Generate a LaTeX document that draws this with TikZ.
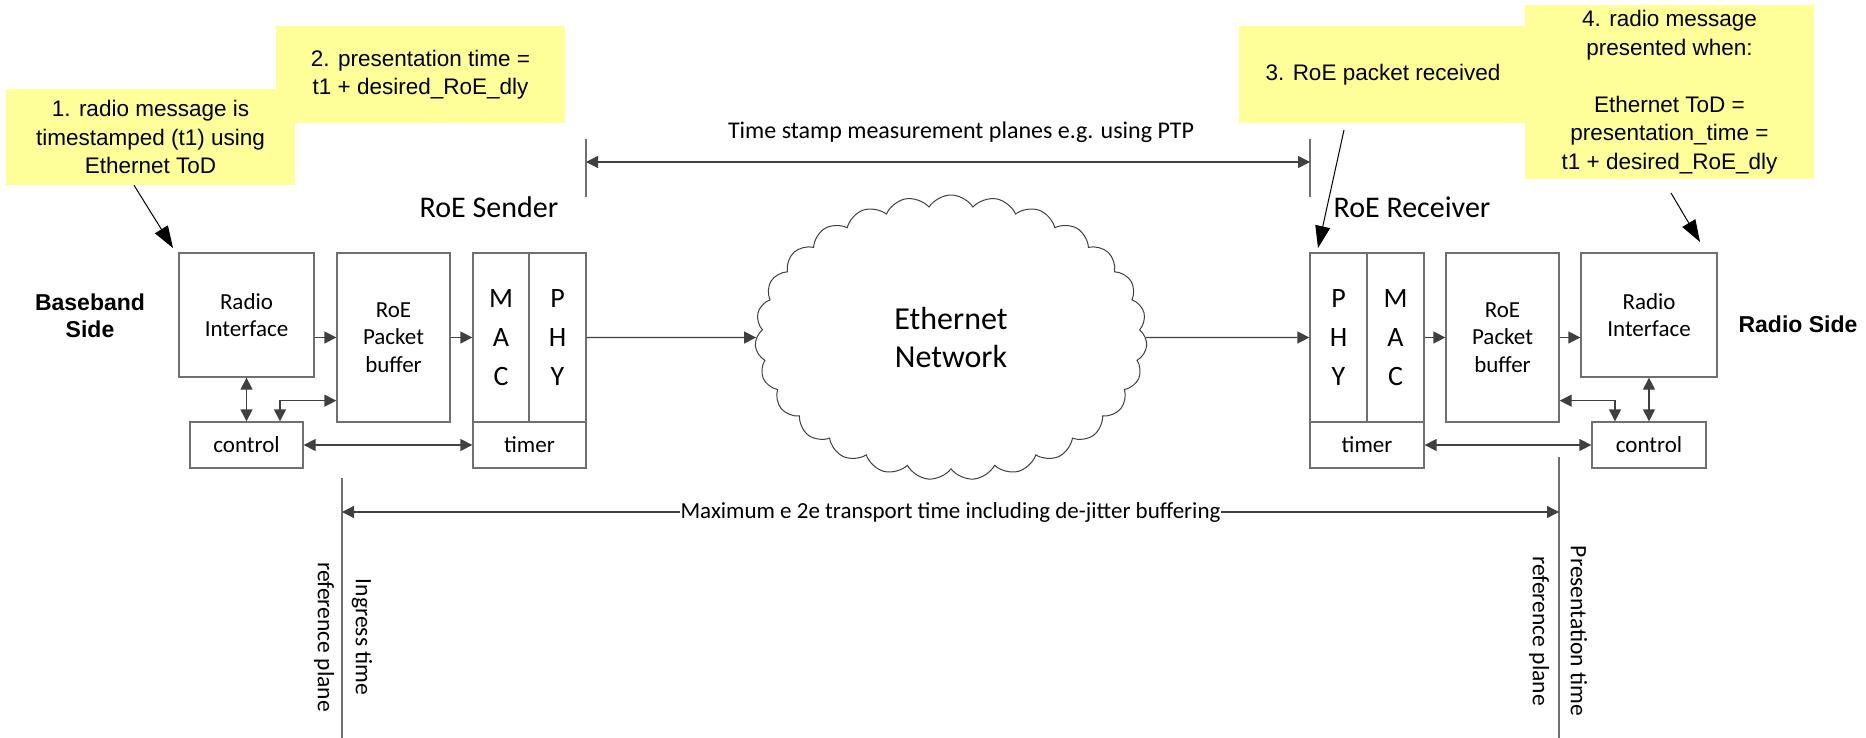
\documentclass[tikz,border=0pt]{standalone}
\usepackage{fontspec}
\setmainfont{Carlito}
\newfontfamily\arialfont{Liberation Sans}
\usetikzlibrary{shapes.symbols,arrows.meta,calc}
\definecolor{notey}{HTML}{FFFF99}
\definecolor{boxc}{HTML}{707070}
\definecolor{arrc}{HTML}{404040}
\begin{document}
\begin{tikzpicture}[x=1pt,y=-1pt,
  blk/.style={draw=boxc,line width=1.3pt,inner sep=0pt,align=center,font=\fontsize{23}{27.5}\selectfont},
  ltr/.style={blk,font=\fontsize{28}{39}\selectfont},
  note/.style={fill=notey,inner sep=0pt,align=center,font=\arialfont\fontsize{22.5}{28.5}\selectfont},
  flow/.style={draw=arrc,line width=1.3pt,-{Triangle[length=12pt,width=12pt]}},
  dflow/.style={draw=arrc,line width=1.3pt,{Triangle[length=12pt,width=12pt]}-{Triangle[length=12pt,width=12pt]}},
  dim/.style={draw=boxc,line width=1.3pt},
  callout/.style={draw=black,line width=1pt,-{Triangle[length=22pt,width=15pt]}},
  sidelbl/.style={font=\arialfont\bfseries\fontsize{23}{27}\selectfont,align=center},
  plane/.style={rotate=-90,align=center,font=\fontsize{23.5}{38}\selectfont},
]
\useasboundingbox (0,0) rectangle (1866,738);

% notes
\node[note,minimum width=289pt,minimum height=97pt] (n2) at (420.5,74.5) {2. presentation time =\\t1 + desired\_RoE\_dly};
\node[note,minimum width=289pt,minimum height=96pt] (n1) at (150.5,137) {1. radio message is\\timestamped (t1) using\\Ethernet ToD};
\node[note,minimum width=288pt,minimum height=97pt] (n3) at (1383,74.5) {3. RoE packet received};
\node[note,minimum width=289pt,minimum height=174pt] (n4) at (1669.5,92) {4. radio message\\presented when:\\[28.5pt]Ethernet ToD =\\presentation\_time =\\t1 + desired\_RoE\_dly};

% sender blocks
\node[blk,minimum width=135pt,minimum height=124pt] (ri1) at (246.5,315) {Radio\\Interface};
\node[blk,minimum width=113pt,minimum height=169pt] (buf1) at (393.5,337.5) {RoE\\Packet\\buffer};
\node[ltr,minimum width=56pt,minimum height=169pt] (mac1) at (501,337.5) {M\\A\\C};
\node[ltr,minimum width=57pt,minimum height=169pt] (phy1) at (557.5,337.5) {P\\H\\Y};
\node[blk,minimum width=113pt,minimum height=46pt] (tim1) at (529.5,445) {timer};
\node[blk,minimum width=113pt,minimum height=46pt] (ctl1) at (246.5,445) {control};

% receiver blocks
\node[ltr,minimum width=57pt,minimum height=169pt] (phy2) at (1338.5,337.5) {P\\H\\Y};
\node[ltr,minimum width=57pt,minimum height=169pt] (mac2) at (1395.5,337.5) {M\\A\\C};
\node[blk,minimum width=114pt,minimum height=46pt] (tim2) at (1367,445) {timer};
\node[blk,minimum width=113pt,minimum height=169pt] (buf2) at (1502.5,337.5) {RoE\\Packet\\buffer};
\node[blk,minimum width=136pt,minimum height=124pt] (ri2) at (1649,315) {Radio\\Interface};
\node[blk,minimum width=114pt,minimum height=46pt] (ctl2) at (1649,445) {control};

% cloud
\node[cloud,draw=arrc,line width=1pt,cloud puffs=27,cloud puff arc=115,aspect=1.38,
      minimum width=392pt,minimum height=285pt,inner sep=0pt,align=center,
      font=\fontsize{32}{38}\selectfont] (net) at (951,337.5) {Ethernet\\Network};

% flows
\draw[flow] (ri1.east |- buf1.west) -- (buf1.west);
\draw[flow] (buf1.east) -- (mac1.west);
\draw[flow] (phy1.east) -- (net.west);
\draw[flow] (net.east) -- (phy2.west);
\draw[flow] (mac2.east) -- (buf2.west);
\draw[flow] (buf2.east) -- (ri2.west |- buf2.east);
\draw[dflow] (ri1.south) -- (ctl1.north);
\draw[dflow] (ri2.south) -- (ctl2.north);
\draw[dflow] (ctl1.east) -- (tim1.west);
\draw[dflow] (tim2.east) -- (ctl2.west);
\draw[dflow] ([xshift=33.5pt]ctl1.north) |- ([yshift=22pt]buf1.south west);
\draw[dflow] ([xshift=-34pt]ctl2.north) |- ([yshift=22pt]buf2.south east);

% titles
\node[font=\fontsize{30}{36}\selectfont] (snd) at (489,207) {RoE Sender};
\node[font=\fontsize{30}{36}\selectfont] (rcv) at (1412,207) {RoE Receiver};
\node[sidelbl] (bb) at (90,316) {Baseband\\Side};
\node[sidelbl] (rs) at (1798,324) {Radio Side};

% time stamp planes
\coordinate (tsLt) at (586,139); \coordinate (tsLb) at (586,197);
\coordinate (tsRt) at (1310,139); \coordinate (tsRb) at (1310,197);
\coordinate (tsL) at (586,162); \coordinate (tsR) at (1310,162);
\draw[dim] (tsLt) -- (tsLb);
\draw[dim] (tsRt) -- (tsRb);
\draw[dflow] (tsL) -- (tsR);
\node[font=\fontsize{24}{28}\selectfont] (tslbl) at (961,132) {Time stamp measurement planes e.g. using PTP};

% e2e planes
\coordinate (inT) at (342,478); \coordinate (inB) at (342,738);
\coordinate (prT) at (1559,457); \coordinate (prB) at (1559,738);
\draw[dim] (inT) -- (inB);
\draw[dim] (prT) -- (prB);
\coordinate (e2eL) at (342,512); \coordinate (e2eR) at (1559,512);
\draw[dflow] (e2eL) -- (e2eR) node[midway,fill=white,inner sep=1pt,font=\fontsize{23}{27}\selectfont] (e2elbl) {Maximum e 2e transport time including de-jitter buffering};
\node[plane] (inglbl) at (343,637) {Ingress time\\reference plane};
\node[plane] (prlbl) at (1558,631) {Presentation time\\reference plane};

% callouts
\coordinate (c1e) at (173,248);
\coordinate (c3s) at (1344,130); \coordinate (c3e) at (1318,248);
\coordinate (c4s) at (1671,193); \coordinate (c4e) at (1700,242);
\draw[callout] ([xshift=-16.5pt]n1.south) -- (c1e);
\draw[callout] (c3s) -- (c3e);
\draw[callout] (c4s) -- (c4e);
\end{tikzpicture}
\end{document}
